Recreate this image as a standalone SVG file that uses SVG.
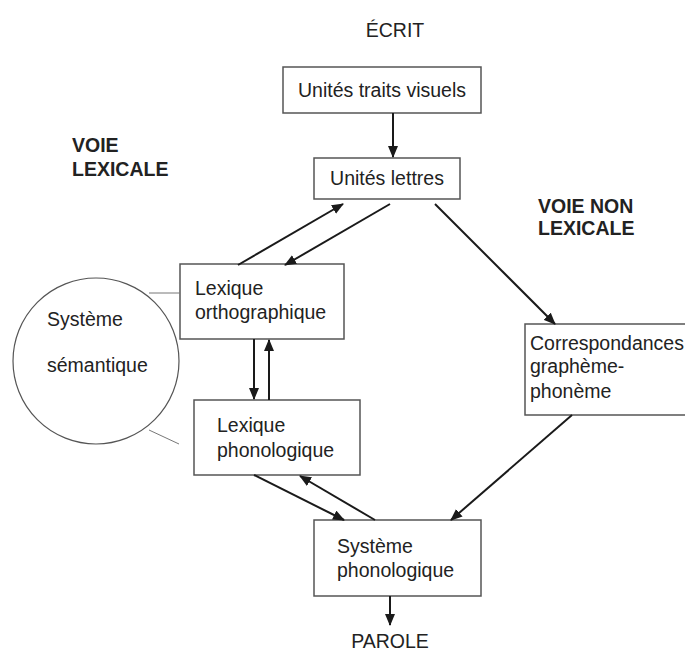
<svg xmlns="http://www.w3.org/2000/svg" width="685" height="652" viewBox="0 0 685 652">
<defs>
<marker id="ah" markerWidth="12" markerHeight="10" refX="11" refY="5" orient="auto" markerUnits="userSpaceOnUse" viewBox="0 0 12 10">
<path d="M0,0 L12,5 L0,10 Z" fill="#1a1a1a"/>
</marker>
</defs>
<style>
text{font-family:"Liberation Sans",Arial,sans-serif;font-size:19.5px;fill:#222}
.b{font-weight:bold}
.box{fill:#fff;stroke:#555;stroke-width:1.5}
.c{stroke:#1a1a1a;stroke-width:2;fill:none;marker-end:url(#ah)}
.thin{stroke:#777;stroke-width:1;fill:none}
</style>
<rect width="685" height="652" fill="#fff"/>
<text x="395" y="37" text-anchor="middle">ÉCRIT</text>
<text x="390" y="648" text-anchor="middle">PAROLE</text>
<g id="voie-lexicale"><text class="b" x="72" y="152">VOIE</text><text class="b" x="72" y="176">LEXICALE</text></g>
<g id="voie-non-lexicale"><text class="b" x="538" y="213">VOIE NON</text><text class="b" x="538" y="235">LEXICALE</text></g>
<g id="traits"><rect class="box" x="283" y="67" width="198" height="46"/><text x="382" y="97" text-anchor="middle">Unités traits visuels</text></g>
<g id="lettres"><rect class="box" x="314" y="158" width="146" height="41"/><text x="387" y="185" text-anchor="middle">Unités lettres</text></g>
<g id="ortho"><rect class="box" x="180" y="264" width="164" height="75"/><text x="195" y="295">Lexique</text><text x="195" y="319">orthographique</text></g>
<g id="semantique"><circle cx="96" cy="361" r="83" fill="#fff" stroke="#555" stroke-width="1.2"/><text x="47" y="326">Système</text><text x="47" y="372">sémantique</text></g>
<g id="phono"><rect class="box" x="194" y="400" width="166" height="75"/><text x="217" y="432">Lexique</text><text x="217" y="457">phonologique</text></g>
<g id="cgp"><rect class="box" x="525" y="324" width="170" height="91"/><text x="530" y="350">Correspondances</text><text x="530" y="373">graphème-</text><text x="530" y="398">phonème</text></g>
<g id="sysphono"><rect class="box" x="314" y="520" width="167" height="76"/><text x="337" y="553">Système</text><text x="337" y="577">phonologique</text></g>
<g id="connectors">
<line class="c" x1="393" y1="113" x2="393" y2="157"/>
<line class="c" x1="238" y1="265" x2="343" y2="204"/>
<line class="c" x1="390" y1="204" x2="285" y2="265"/>
<line class="c" x1="435" y1="204" x2="555" y2="324"/>
<line class="c" x1="254" y1="339" x2="254" y2="399"/>
<line class="c" x1="269" y1="400" x2="269" y2="340"/>
<line class="c" x1="254" y1="475" x2="344" y2="520"/>
<line class="c" x1="375" y1="520" x2="300" y2="476"/>
<line class="c" x1="572" y1="415" x2="451" y2="520"/>
<line class="c" x1="390" y1="596" x2="390" y2="625"/>
<line class="thin" x1="149" y1="293" x2="180" y2="293"/>
<line class="thin" x1="149" y1="430" x2="179" y2="444"/>
</g>
</svg>
